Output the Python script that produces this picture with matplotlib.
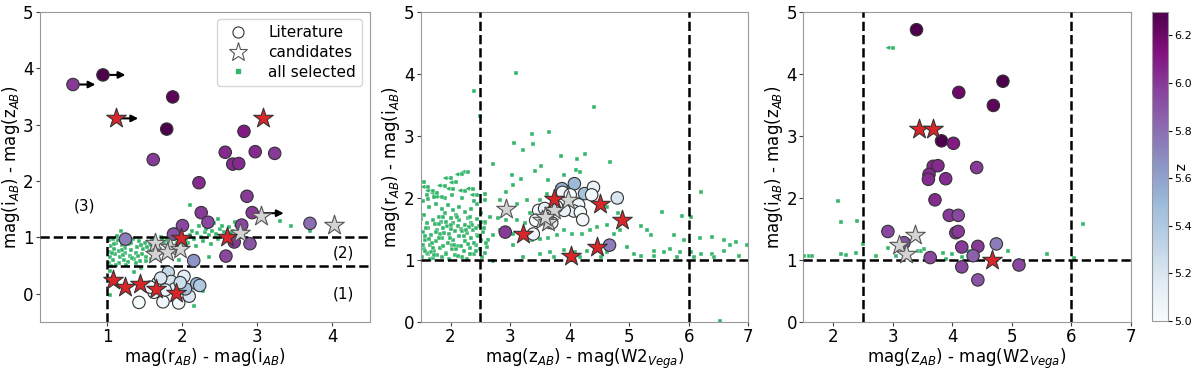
import matplotlib

matplotlib.use("Agg")
import matplotlib.pyplot as plt
from matplotlib.lines import Line2D

GREEN = "#33b56a"
RED = "#d9262b"
GREY_STAR = "#d3d3d3"
CMAP = "BuPu"
ZMIN, ZMAX = 5.0, 6.3

# ---------------- panel 1: r-i vs i-z ----------------
p1_lit_x = [0.54, 0.94, 1.87, 1.79, 1.61, 2.22, 2.25, 2.00, 1.88, 2.34, 2.57, 2.67, 2.75,
            2.82, 2.97, 3.23, 2.86, 2.93, 2.79, 2.69, 2.90, 2.58, 1.24, 2.15, 3.70,
            1.42, 1.74, 1.95, 2.09, 1.81, 2.02, 2.19, 2.23, 1.67, 1.85, 1.62, 1.90,
            2.04, 1.77, 1.71, 1.97, 1.57]
p1_lit_y = [3.71, 3.88, 3.49, 2.92, 2.38, 1.97, 1.44, 1.21, 1.06, 1.27, 2.51, 2.30, 2.31,
            2.88, 2.52, 2.49, 1.73, 1.44, 1.22, 0.92, 0.89, 0.67, 0.97, 0.59, 1.25,
            -0.15, -0.14, -0.16, -0.04, 0.38, 0.31, 0.18, 0.15, 0.19, 0.22, 0.03, 0.09,
            0.09, 0.07, 0.28, 0.20, 0.12]
p1_lit_z = [6.00, 6.30, 6.25, 6.30, 6.00, 6.05, 6.00, 5.95, 5.90, 5.95, 6.05, 6.05, 6.05,
            6.10, 6.05, 6.00, 6.00, 6.00, 5.95, 6.00, 5.90, 5.95, 5.75, 5.65, 5.80,
            5.00, 5.05, 5.05, 5.20, 5.30, 5.15, 5.50, 5.40, 5.10, 5.20, 5.05, 5.15,
            5.45, 5.10, 5.20, 5.25, 5.05]

p1_red_x = [1.11, 3.08, 1.98, 2.59, 1.08, 1.23, 1.44, 1.65, 1.91]
p1_red_y = [3.11, 3.11, 0.99, 1.00, 0.25, 0.13, 0.17, 0.08, 0.01]
p1_grey_x = [3.05, 4.02, 2.77, 1.64, 1.84, 1.97, 1.63, 1.80]
p1_grey_y = [1.38, 1.22, 1.08, 0.90, 0.84, 0.79, 0.70, 0.74]

# lower limits in r-i (arrow to the right)
p1_arrow_x = [0.54, 0.94, 1.11, 3.05]
p1_arrow_y = [3.71, 3.88, 3.11, 1.43]

p1_sel_x = [1.02, 1.04, 1.03, 1.05, 1.02, 1.08, 1.10, 1.09, 1.12, 1.07, 1.15, 1.17, 1.16,
            1.19, 1.14, 1.22, 1.24, 1.23, 1.26, 1.28, 1.30, 1.32, 1.29, 1.34, 1.36, 1.38,
            1.40, 1.42, 1.44, 1.46, 1.48, 1.50, 1.52, 1.55, 1.57, 1.59, 1.62, 1.64, 1.66,
            1.06, 1.20, 1.33, 1.45, 1.11, 1.25, 1.13, 1.18, 1.05,
            1.70, 1.75, 1.80, 1.72, 1.85, 1.90, 1.95, 2.00, 2.05, 2.10, 2.15, 2.20, 2.25,
            2.30, 2.35, 2.40, 2.45, 2.50, 2.55, 2.62, 2.68, 2.72, 2.80, 2.85, 1.78, 1.88,
            2.08, 2.28, 2.48, 2.38, 2.18, 1.98, 1.68, 1.75, 2.60, 2.75, 2.22, 2.42, 2.48,
            2.10, 1.90, 3.30, 3.45, 3.70, 2.28, 2.15, 1.35, 1.03, 1.45, 2.35, 1.95, 1.22,
            1.03, 1.38, 1.52, 1.58, 2.55, 2.65, 2.32, 1.09, 1.21, 1.31, 1.41, 1.53, 1.63,
            1.73, 1.83, 1.93, 2.03, 2.13, 2.53, 2.70]
p1_sel_y = [0.55, 0.65, 0.75, 0.85, 0.95, 0.60, 0.70, 0.80, 0.90, 0.98, 0.55, 0.66, 0.76,
            0.86, 0.95, 0.60, 0.72, 0.82, 0.92, 0.56, 0.68, 0.78, 0.88, 0.97, 0.62, 0.73,
            0.84, 0.93, 0.58, 0.70, 0.80, 0.90, 0.66, 0.76, 0.86, 0.95, 0.72, 0.82, 0.92,
            0.72, 0.78, 0.64, 0.86, 0.52, 0.52, 1.02, 1.12, 0.50,
            0.80, 0.90, 0.95, 1.00, 0.88, 0.98, 0.92, 1.02, 0.95, 1.05, 0.98, 1.08, 1.00,
            1.10, 1.04, 1.12, 1.06, 1.15, 1.10, 1.18, 1.12, 1.22, 1.15, 1.10, 0.85, 1.06,
            0.90, 0.93, 0.98, 0.88, 0.85, 0.82, 0.65, 0.72, 1.00, 1.05, 1.20, 1.25, 1.32,
            1.58, 1.15, 1.30, 1.20, 1.12, 0.06, -0.22, 0.38, -0.02, 0.46, 0.65, 0.60, 1.00,
            0.40, 0.55, 0.58, 0.62, 1.02, 1.08, 1.15, 0.88, 0.69, 0.91, 0.67, 0.83, 0.64,
            0.96, 1.02, 0.90, 0.88, 1.12, 1.21, 1.28]

# ---------------- panel 2: z-W2 vs r-i ----------------
p2_lit_x = [3.87, 4.08, 4.25, 4.40, 4.37, 4.80, 3.88, 4.01, 4.15, 4.07, 4.18, 4.22, 3.91,
            3.78, 3.48, 3.58, 3.43, 3.39, 3.70, 3.62, 2.92, 4.67]
p2_lit_y = [2.15, 2.23, 2.07, 2.17, 2.05, 2.00, 2.09, 2.05, 1.89, 1.79, 1.77, 1.65, 1.80,
            1.86, 1.80, 1.83, 1.64, 1.42, 1.60, 1.70, 1.45, 1.24]
p2_lit_z = [5.55, 5.50, 5.45, 5.10, 5.05, 5.20, 5.05, 5.00, 5.05, 5.10, 5.00, 5.05, 5.10,
            5.00, 5.05, 5.10, 5.00, 5.05, 5.10, 5.05, 6.00, 5.75]
p2_red_x = [3.73, 4.51, 4.88, 3.22, 4.46, 4.02]
p2_red_y = [1.99, 1.91, 1.65, 1.42, 1.21, 1.07]
p2_grey_x = [2.93, 3.98, 3.73, 3.53, 3.64, 3.59]
p2_grey_y = [1.82, 1.97, 1.81, 1.64, 1.61, 1.70]

p2_sel_x = [2.39, 3.10, 2.49, 3.07, 3.21, 3.36, 3.39, 3.66, 4.41, 3.86, 4.25, 4.67, 2.72,
            3.52, 3.42, 4.10, 4.18, 3.04, 3.90, 3.19, 6.20, 2.93, 5.55, 5.89, 6.03, 5.20,
            5.30, 5.36, 5.75, 5.92, 6.19, 6.39, 6.59, 6.70, 6.98, 6.79, 6.59, 6.39, 6.20,
            6.03, 5.86, 5.69, 5.58, 5.41, 5.19, 5.08, 4.96, 6.09, 6.43, 6.84, 6.53, 5.41,
            5.80, 4.74, 4.85, 4.63, 4.46, 4.35, 4.21, 4.04, 3.90, 3.78, 3.64, 3.50, 3.36,
            3.05, 2.83, 2.72, 3.05, 3.22, 3.50, 3.67, 3.90, 4.09, 4.29, 4.63, 4.52, 4.18,
            3.73, 2.72, 2.53, 2.61, 2.63, 2.58, 2.66, 2.80, 2.94, 3.11, 3.25, 3.34, 3.50,
            3.11, 3.28, 2.83, 3.05, 2.58, 2.58, 4.12, 3.64, 3.78, 3.95, 4.21, 4.63, 4.82,
            3.62, 4.85,
            1.52, 1.55, 1.58, 1.53, 1.60, 1.56, 1.62, 1.65, 1.68, 1.63, 1.70, 1.66, 1.72,
            1.75, 1.78, 1.74, 1.80, 1.77, 1.82, 1.85, 1.88, 1.84, 1.90, 1.86, 1.92, 1.95,
            1.98, 1.94, 2.00, 1.97, 2.02, 2.05, 2.08, 2.04, 2.10, 2.07, 2.12, 2.15, 2.18,
            2.14, 2.20, 2.22, 2.25, 2.28, 2.24, 2.30, 2.27, 2.32, 2.35, 2.38, 2.34, 2.40,
            2.42, 2.45, 2.48, 2.44, 2.50, 2.52, 2.55, 2.58, 2.60, 1.58, 1.70, 1.82, 1.92,
            2.02, 2.12, 2.22, 2.32, 2.42, 1.64, 1.54, 1.75, 1.85, 1.95, 2.05, 2.15, 2.25,
            2.35, 2.45, 1.60, 1.72, 1.90, 2.02, 2.20, 2.40, 2.52, 2.58, 1.53, 1.67, 1.80,
            1.99, 2.17, 2.36, 1.61, 1.89, 2.09, 2.29, 2.47, 1.71, 2.01,
            1.57, 1.69, 1.81, 1.93, 2.06, 2.19, 2.31, 2.43, 1.51, 1.64, 1.76, 1.88, 2.00,
            2.13, 2.26, 2.39, 2.51, 1.59, 1.73, 1.87, 2.11, 2.33, 2.56]
p2_sel_y = [3.72, 4.02, 3.32, 2.88, 2.77, 3.03, 2.87, 3.07, 3.46, 2.67, 2.70, 2.58, 2.54,
            2.52, 2.44, 2.45, 2.42, 2.37, 2.37, 2.31, 2.10, 2.10, 1.78, 1.71, 1.70, 1.55,
            1.48, 1.40, 1.41, 1.33, 1.36, 1.37, 1.32, 1.24, 1.24, 1.29, 1.15, 1.10, 1.10,
            1.13, 1.13, 1.18, 1.13, 1.15, 1.07, 1.10, 1.21, 1.05, 1.05, 1.07, 0.02, 1.06,
            1.05, 1.42, 1.48, 1.56, 1.53, 1.48, 1.42, 1.42, 1.48, 1.40, 1.36, 1.34, 1.32,
            1.42, 1.48, 1.40, 1.24, 1.05, 1.10, 1.13, 1.16, 1.13, 1.15, 1.13, 1.05, 1.05,
            1.05, 0.99, 1.05, 1.21, 1.32, 1.59, 1.70, 1.67, 1.64, 1.64, 1.59, 1.75, 1.97,
            1.91, 1.97, 1.97, 2.21, 1.97, 2.07, 2.62, 2.29, 2.18, 2.18, 2.02, 1.86, 1.75,
            2.07, 1.94,
            1.05, 1.18, 1.32, 1.45, 1.60, 1.72, 1.10, 1.25, 1.40, 1.52, 1.65, 1.02, 1.15,
            1.30, 1.48, 1.58, 1.70, 1.08, 1.20, 1.35, 1.52, 1.62, 1.75, 1.05, 1.12, 1.28,
            1.42, 1.55, 1.68, 1.02, 1.18, 1.33, 1.46, 1.60, 1.72, 1.08, 1.22, 1.38, 1.50,
            1.64, 1.05, 1.15, 1.30, 1.44, 1.56, 1.68, 1.02, 1.20, 1.35, 1.48, 1.60, 1.10,
            1.25, 1.40, 1.55, 1.66, 1.18, 1.32, 1.45, 1.12, 1.28, 1.38, 1.20, 1.42, 1.62,
            1.25, 1.55, 1.38, 1.10, 1.52, 1.85, 1.95, 1.90, 1.82, 1.88, 1.80, 1.85, 1.78,
            1.82, 1.90, 2.05, 2.02, 2.00, 2.05, 2.00, 1.95, 1.75, 1.62, 1.25, 1.13, 1.58,
            1.36, 1.22, 1.57, 1.12, 1.43, 1.17, 1.26, 1.38, 1.03, 1.50,
            1.14, 1.27, 1.36, 1.09, 1.24, 1.47, 1.53, 1.15, 1.66, 1.34, 1.45, 1.23, 1.57,
            1.06, 1.49, 1.27, 1.61, 1.51, 1.08, 1.69, 1.69, 1.70, 1.51]

# points with an upper limit in z-W2 (arrow to the left)
p2_lim_x = [1.55, 1.70, 1.78, 1.90, 2.00, 2.10, 2.20, 2.30, 2.38, 1.63, 2.05, 2.45, 1.85,
            2.25, 1.62]
p2_lim_y = [2.25, 2.12, 2.08, 2.20, 2.32, 2.25, 2.38, 2.42, 2.15, 2.18, 2.15, 2.05, 2.02,
            2.12, 1.98]

# ---------------- panel 3: z-W2 vs i-z ----------------
p3_lit_x = [3.40, 4.85, 4.11, 4.69, 3.82, 4.02, 3.68, 3.76, 4.41, 3.61, 3.60, 3.89, 3.71,
            3.95, 4.10, 4.06, 4.10, 2.92, 3.19, 4.16, 4.43, 4.74, 4.35, 3.63, 4.16, 5.12,
            4.43]
p3_lit_y = [4.71, 3.88, 3.70, 3.49, 2.92, 2.88, 2.51, 2.52, 2.49, 2.38, 2.30, 2.31, 1.97,
            1.72, 1.72, 1.44, 1.46, 1.46, 1.28, 1.21, 1.22, 1.26, 1.07, 1.04, 0.89, 0.92,
            0.68]
p3_lit_z = [6.30, 6.30, 6.20, 6.25, 6.30, 6.10, 6.05, 6.05, 6.00, 6.05, 6.05, 6.05, 6.05,
            6.00, 5.95, 6.00, 6.00, 5.95, 5.90, 6.00, 6.00, 5.75, 5.85, 5.95, 5.95, 5.95,
            5.90]
p3_red_x = [3.45, 3.67, 4.67]
p3_red_y = [3.11, 3.11, 1.00]
p3_grey_x = [3.37, 3.10, 3.22]
p3_grey_y = [1.40, 1.24, 1.09]

p3_sel_x = [3.01, 4.17, 2.08, 2.13, 2.40, 6.19, 2.50, 2.92, 1.52, 1.60, 1.65, 2.13, 2.22,
            2.39, 2.72, 3.06, 3.43, 3.48, 3.53, 3.71, 3.85, 3.89, 4.00, 4.17, 4.27, 4.41,
            4.93, 5.59, 6.04]
p3_sel_y = [4.42, 3.69, 1.95, 1.62, 1.63, 1.58, 1.26, 1.19, 1.06, 1.06, 1.07, 1.09, 1.08,
            1.11, 1.07, 1.07, 1.15, 1.15, 1.17, 1.01, 1.12, 1.01, 1.09, 1.05, 1.14, 1.11,
            1.14, 1.09, 1.03]
p3_lim_x = [3.01]
p3_lim_y = [4.42]


def draw_panel(ax, lit_x, lit_y, lit_z, red_x, red_y, grey_x, grey_y, sel_x, sel_y,
               lim_x=(), lim_y=()):
    ax.scatter(sel_x, sel_y, marker="s", s=9, color=GREEN, edgecolors="white",
               linewidths=0.3, zorder=2)
    # short left-pointing arrows for upper limits
    for x, y in zip(lim_x, lim_y):
        ax.annotate("", xy=(x - 0.13, y), xytext=(x, y),
                    arrowprops=dict(arrowstyle="-|>", color=GREEN, lw=0.9,
                                    mutation_scale=5, shrinkA=0, shrinkB=0), zorder=2)
    ax.scatter(lim_x, lim_y, marker="s", s=9, color=GREEN, edgecolors="white",
               linewidths=0.3, zorder=2)
    sc = ax.scatter(lit_x, lit_y, c=lit_z, cmap=CMAP, vmin=ZMIN, vmax=ZMAX, s=80,
                    edgecolors="#333333", linewidths=0.8, zorder=4)
    ax.scatter(grey_x, grey_y, marker="*", s=220, color=GREY_STAR, edgecolors="#555555",
               linewidths=0.8, zorder=5)
    ax.scatter(red_x, red_y, marker="*", s=220, color=RED, edgecolors="#333333",
               linewidths=0.8, zorder=6)
    for sp in ax.spines.values():
        sp.set_color("#999999")
    ax.tick_params(labelsize=12, color="#444444", length=3, pad=1.5)
    return sc


plt.rcParams["font.family"] = "DejaVu Sans"
fig = plt.figure(figsize=(12, 3.69), dpi=100)
ax1 = fig.add_axes((0.0333, 0.1270, 0.2750, 0.8413))
ax2 = fig.add_axes((0.3506, 0.1270, 0.2730, 0.8413))
ax3 = fig.add_axes((0.6694, 0.1270, 0.2731, 0.8413))
cax = fig.add_axes((0.9598, 0.1300, 0.0133, 0.8383))

LABEL_FS = 12

# panel 1
draw_panel(ax1, p1_lit_x, p1_lit_y, p1_lit_z, p1_red_x, p1_red_y, p1_grey_x, p1_grey_y,
           p1_sel_x, p1_sel_y)
for x, y in zip(p1_arrow_x, p1_arrow_y):
    ax1.annotate("", xy=(x + 0.30, y), xytext=(x, y),
                 arrowprops=dict(arrowstyle="-|>", color="black", lw=1.5,
                                 mutation_scale=10, shrinkA=0, shrinkB=0), zorder=3)
ax1.set_xlim(0.1, 4.5)
ax1.set_ylim(-0.5, 5)
ax1.set_xticks([1, 2, 3, 4])
ax1.set_yticks([0, 1, 2, 3, 4, 5])
ax1.axhline(1.0, color="black", ls="--", lw=1.8, zorder=3)
ax1.plot([1.0, 4.5], [0.5, 0.5], color="black", ls="--", lw=1.8, zorder=3)
ax1.plot([1.0, 1.0], [-0.5, 1.0], color="black", ls="--", lw=1.8, zorder=3)
ax1.text(0.55, 1.48, "(3)", fontsize=11)
ax1.text(4.0, 0.64, "(2)", fontsize=11)
ax1.text(4.0, -0.08, "(1)", fontsize=11)
ax1.set_xlabel(r"mag(r$_{AB}$) - mag(i$_{AB}$)", fontsize=LABEL_FS, labelpad=0)
ax1.set_ylabel(r"mag(i$_{AB}$) - mag(z$_{AB}$)", fontsize=LABEL_FS, labelpad=1)
handles = [
    Line2D([], [], ls="none", marker="o", ms=8, mfc="white", mec="#333333", mew=0.8),
    Line2D([], [], ls="none", marker="*", ms=14, mfc="white", mec="#555555", mew=0.8),
    Line2D([], [], ls="none", marker="s", ms=3, mfc=GREEN, mec=GREEN),
]
ax1.legend(handles, ["Literature", "candidates", "all selected"], loc="upper right",
           fontsize=11, handletextpad=1.0, borderpad=0.4, labelspacing=0.3,
           borderaxespad=0.5)

# panel 2
draw_panel(ax2, p2_lit_x, p2_lit_y, p2_lit_z, p2_red_x, p2_red_y, p2_grey_x, p2_grey_y,
           p2_sel_x, p2_sel_y, p2_lim_x, p2_lim_y)
ax2.set_xlim(1.5, 7)
ax2.set_ylim(0, 5)
ax2.set_xticks([2, 3, 4, 5, 6, 7])
ax2.set_yticks([0, 1, 2, 3, 4, 5])
ax2.axhline(1.0, color="black", ls="--", lw=1.8, zorder=3)
ax2.axvline(2.5, color="black", ls="--", lw=1.8, zorder=3)
ax2.axvline(6.0, color="black", ls="--", lw=1.8, zorder=3)
ax2.set_xlabel(r"mag(z$_{AB}$) - mag(W2$_{Vega}$)", fontsize=LABEL_FS, labelpad=0)
ax2.set_ylabel(r"mag(r$_{AB}$) - mag(i$_{AB}$)", fontsize=LABEL_FS, labelpad=1)

# panel 3
sc = draw_panel(ax3, p3_lit_x, p3_lit_y, p3_lit_z, p3_red_x, p3_red_y, p3_grey_x,
                p3_grey_y, p3_sel_x, p3_sel_y, p3_lim_x, p3_lim_y)
ax3.set_xlim(1.5, 7)
ax3.set_ylim(0, 5)
ax3.set_xticks([2, 3, 4, 5, 6, 7])
ax3.set_yticks([0, 1, 2, 3, 4, 5])
ax3.axhline(1.0, color="black", ls="--", lw=1.8, zorder=3)
ax3.axvline(2.5, color="black", ls="--", lw=1.8, zorder=3)
ax3.axvline(6.0, color="black", ls="--", lw=1.8, zorder=3)
ax3.set_xlabel(r"mag(z$_{AB}$) - mag(W2$_{Vega}$)", fontsize=LABEL_FS, labelpad=0)
ax3.set_ylabel(r"mag(i$_{AB}$) - mag(z$_{AB}$)", fontsize=LABEL_FS, labelpad=1)

cb = fig.colorbar(sc, cax=cax)
cb.set_ticks([5.0, 5.2, 5.4, 5.6, 5.8, 6.0, 6.2])
cb.ax.tick_params(labelsize=8, length=3, pad=1.5)
cb.outline.set_edgecolor("#999999")
cb.set_label("z", rotation=270, fontsize=10, labelpad=-4)

fig.savefig("out.png", dpi=100)
